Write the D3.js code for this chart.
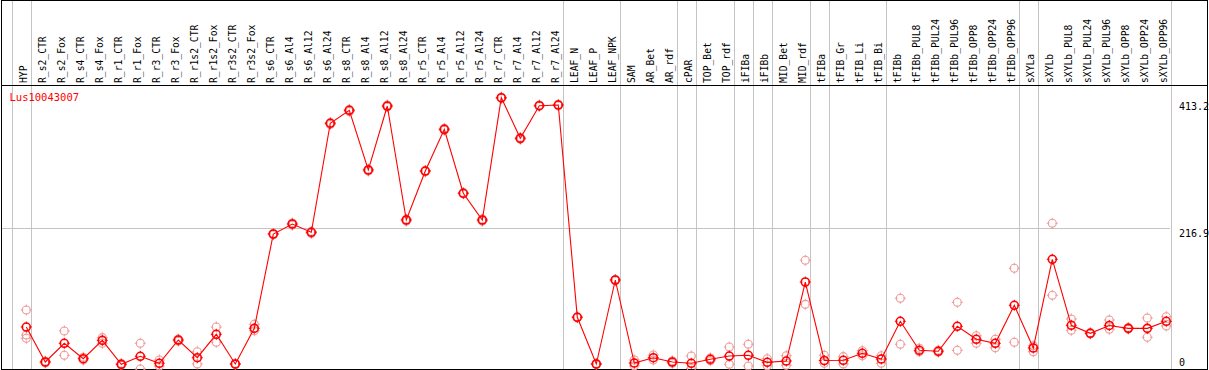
<!DOCTYPE html>
<html><head><meta charset="utf-8">
<script src="https://cdnjs.cloudflare.com/ajax/libs/d3/7.8.5/d3.min.js"></script>
<style>body{margin:0;background:#fff}svg{display:block}</style>
</head><body>
<svg id="c" width="1209" height="370"></svg>
<script>
const categories = ["HYP","R_s2_CTR","R_s2_Fox","R_s4_CTR","R_s4_Fox","R_r1_CTR","R_r1_Fox","R_r3_CTR","R_r3_Fox","R_r1s2_CTR","R_r1s2_Fox","R_r3s2_CTR","R_r3s2_Fox","R_s6_CTR","R_s6_Al4","R_s6_Al12","R_s6_Al24","R_s8_CTR","R_s8_Al4","R_s8_Al12","R_s8_Al24","R_r5_CTR","R_r5_Al4","R_r5_Al12","R_r5_Al24","R_r7_CTR","R_r7_Al4","R_r7_Al12","R_r7_Al24","LEAF_N","LEAF_P","LEAF_NPK","SAM","AR_Bet","AR_rdf","cPAR","TOP_Bet","TOP_rdf","iFIBa","iFIBb","MID_Bet","MID_rdf","tFIBa","tFIB_Gr","tFIB_Li","tFIB_Bi","tFIBb","tFIBb_PUL8","tFIBb_PUL24","tFIBb_PUL96","tFIBb_OPP8","tFIBb_OPP24","tFIBb_OPP96","sXYLa","sXYLb","sXYLb_PUL8","sXYLb_PUL24","sXYLb_PUL96","sXYLb_OPP8","sXYLb_OPP24","sXYLb_OPP96"];
const groupSizes = [1,28,3,3,1,2,1,1,2,1,3,7,1,7];
const means = [64.7,10.8,39.6,15.9,44.2,7.2,19.6,8.8,44.7,17.4,53.5,7.7,62.7,208.1,223.5,210.7,378.8,398.8,306.8,405.4,229.7,305.2,369.5,270.9,229.7,418.2,355.6,405.9,406.9,79.7,7.7,137.2,9.2,17.4,10.8,8.8,15.0,20.0,21.1,10.3,12.3,134.1,13.1,13.4,24.2,15.4,73.5,28.8,27.3,65.8,45.8,39.6,98.2,32.4,169.1,67.4,55.0,67.1,62.7,62.7,73.5];
const reps = [[91.0,52.4,47.3],[9.5,12.0],[58.6,21.1],[14.0,18.0],[48.3,39.6],[6.0,8.4],[39.6,0.0],[13.9,4.6],[43.0,46.0],[26.7,7.7],[64.7,41.2],[7.0,8.5],[68.9,59.0],[207,209],[222,225],[209,212],[377,380],[397,400],[305,308],[404,407],[228,231],[304,306],[368,371],[270,272],[228,231],[417,419],[354,357],[405,407],[406,408],[79,80.5],[7,8.5],[136,138],[13.9,5.1],[21.6,13.9],[12.3,8.8],[20.0,1.1],[17.0,12.8],[33.9,7.2],[38.1,4.6],[15.9,5.1],[20.5,5.7],[167.6,99.7],[21.1,8.8],[19.0,7.7],[28.2,20.5],[20.5,8.8],[109.0,38.1],[31.9,26.7],[26,29],[102.8,28.8],[51.3,39.6],[45.8,32.8],[155.2,41.2],[35.9,26.7],[224.6,113.6],[77.1,59.7],[54,56],[75.5,61.2],[61.5,64],[78.6,48.9],[80.6,66.3]];
const tickValues = [0, 216.9, 413.2];
const tickLabels = ["0","216.9","413.2"];
const title = "Lus10043007";

const svg = d3.select("#c");
const W = 1209, H = 370;
const plotTop = 85.5, plotBottom = 369.5, plotRight = 1170;
const x = d3.scalePoint().domain(categories).range([26.3, 1166.3]);
const y = d3.scaleLinear().domain([0, 216.9]).range([369, 228.3]);
const step = x.step();
const font = "'DejaVu Sans Mono', 'Liberation Mono', monospace";

// group separator lines
let idx = 0;
const bounds = [x(categories[0]) - step + 4.5];
groupSizes.forEach(s => { idx += s; bounds.push(x(categories[idx-1]) + 4.5); });
svg.selectAll("line.grp").data(bounds).enter().append("line")
  .attr("x1", d => Math.round(d) + 0.5).attr("x2", d => Math.round(d) + 0.5)
  .attr("y1", 0).attr("y2", 369).attr("stroke", "#c4c4c4").attr("stroke-width", 1);

// horizontal grid at mid tick
svg.append("line").attr("x1", 1.5).attr("x2", plotRight)
  .attr("y1", Math.round(y(216.9)) + 0.5).attr("y2", Math.round(y(216.9)) + 0.5)
  .attr("stroke", "#c4c4c4").attr("stroke-width", 1);

// borders
svg.append("rect").attr("x", 1.5).attr("y", 0.5).attr("width", 1206).attr("height", 369)
  .attr("fill", "none").attr("stroke", "#000").attr("stroke-width", 1);
svg.append("line").attr("x1", 1.5).attr("x2", 1207.5).attr("y1", plotTop).attr("y2", plotTop)
  .attr("stroke", "#000").attr("stroke-width", 1);

// header labels
svg.selectAll("text.cat").data(categories).enter().append("text")
  .attr("transform", d => `translate(${x(d) + 0.7},83) rotate(-90)`)
  .attr("font-family", font).attr("font-size", "9.7px").attr("fill", "#000")
  .text(d => d);

// y tick labels
svg.selectAll("text.tick").data(tickValues).enter().append("text")
  .attr("x", 1179)
  .attr("y", (d, i) => d === 0 ? 366 : y(d) + 9)
  .attr("font-family", font).attr("font-size", "10px").attr("fill", "#000")
  .text((d, i) => tickLabels[i]);

// title
svg.append("text").attr("x", 9.5).attr("y", 101).attr("font-family", font)
  .attr("font-size", "10.5px").attr("fill", "#ff0000").text(title);

function marker(g, cx, cy, color, sw) {
  g.append("circle").attr("cx", cx).attr("cy", cy).attr("r", 4)
    .attr("fill", "none").attr("stroke", color).attr("stroke-width", sw);
  [[0,-1],[0,1],[-1,0],[1,0]].forEach(([dx, dy]) => {
    g.append("line").attr("x1", cx + dx*3).attr("y1", cy + dy*3)
      .attr("x2", cx + dx*5.5).attr("y2", cy + dy*5.5)
      .attr("stroke", color).attr("stroke-width", 1);
  });
}

// replicate points
const gr = svg.append("g");
reps.forEach((arr, i) => arr.forEach(v => marker(gr, x(categories[i]), y(v), "#f09a9a", 1.1)));

// mean line
const line = d3.line().x((d, i) => x(categories[i])).y(d => y(d));
svg.append("path").datum(means).attr("d", line).attr("fill", "none")
  .attr("stroke", "#ff0000").attr("stroke-width", 1.1);

// mean points
const gm = svg.append("g");
means.forEach((v, i) => marker(gm, x(categories[i]), y(v), "#ff0000", 1.6));
</script>
</body></html>
